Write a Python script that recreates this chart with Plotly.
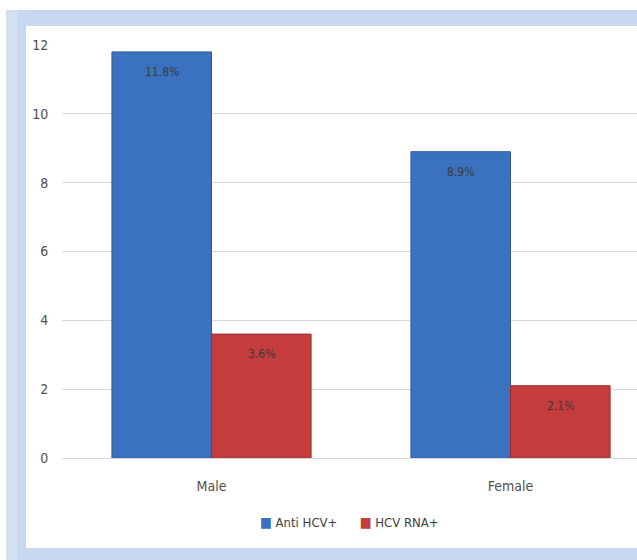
import plotly.graph_objects as go

categories = ["Male", "Female"]
anti_hcv = [11.8, 8.9]
hcv_rna = [3.6, 2.1]
series_names = ["Anti HCV+", "HCV RNA+"]
series_colors = ["#3a72bf", "#c43c3c"]
y_ticks = [0, 2, 4, 6, 8, 10, 12]

FONT = "DejaVu Sans Condensed, Liberation Sans Narrow, Open Sans, sans-serif"
W, H = 637, 560
ML, MT, MB, MR = 62, 45, 102, 0
PW, PH = W - ML - MR, H - MT - MB


def px_x(p):
    return (p - ML) / PW


def px_y(p):
    return (H - MB - p) / PH


fig = go.Figure()
fig.add_trace(go.Bar(
    x=categories, y=anti_hcv, name=series_names[0],
    marker=dict(color=series_colors[0], line=dict(color="#2d5a98", width=1)),
))
fig.add_trace(go.Bar(
    x=categories, y=hcv_rna, name=series_names[1],
    marker=dict(color=series_colors[1], line=dict(color="#9c2e2e", width=1)),
))

annotations = []
for vals, shift in [(anti_hcv, -50), (hcv_rna, 50)]:
    for c, v in zip(categories, vals):
        annotations.append(dict(
            x=c, y=v, xref="x", yref="y", text=f"{v}%", showarrow=False,
            xshift=shift, yshift=-20, font=dict(family=FONT, size=12, color="#3a3a3a"),
        ))

legend_text = "&nbsp;&nbsp;&nbsp;&nbsp;&nbsp;&nbsp;".join(
    f"<span style='color:{col};font-size:14px'>■</span><span style='color:#404040'>&nbsp;{name}</span>"
    for name, col in zip(series_names, series_colors)
)
annotations.append(dict(
    x=0.5, xref="paper", y=px_y(522), yref="paper", yanchor="middle", xanchor="center",
    text=legend_text, showarrow=False, font=dict(family=FONT, size=13, color="#404040"),
))

band = "#c6d9f0"
shapes = [
    dict(type="rect", xref="paper", yref="paper", x0=px_x(6), x1=px_x(17), y0=px_y(560), y1=px_y(10),
         fillcolor="#d5e1f2", line=dict(width=0), layer="below"),
    dict(type="rect", xref="paper", yref="paper", x0=px_x(17), x1=px_x(26), y0=px_y(560), y1=px_y(10),
         fillcolor=band, line=dict(width=0), layer="below"),
    dict(type="rect", xref="paper", yref="paper", x0=px_x(17), x1=px_x(640), y0=px_y(26), y1=px_y(10),
         fillcolor=band, line=dict(width=0), layer="below"),
    dict(type="rect", xref="paper", yref="paper", x0=px_x(17), x1=px_x(640), y0=px_y(560), y1=px_y(548),
         fillcolor=band, line=dict(width=0), layer="below"),
]

fig.update_layout(
    width=W, height=H,
    margin=dict(l=ML, r=MR, t=MT, b=MB, pad=0),
    paper_bgcolor="white", plot_bgcolor="white",
    barmode="group", bargap=0.334, bargroupgap=0,
    font=dict(family=FONT, size=12, color="#505050"),
    xaxis=dict(range=[-0.5, 1.423], showgrid=False, showline=False, zeroline=False,
               ticks="outside", ticklen=15, tickcolor="rgba(0,0,0,0)",
               tickfont=dict(family=FONT, size=14, color="#505050")),
    yaxis=dict(range=[0, 12], tickvals=y_ticks, showgrid=True, gridcolor="#d9d9d9", gridwidth=1,
               zeroline=True, zerolinecolor="#d9d9d9", zerolinewidth=1, showline=False,
               ticks="outside", ticklen=10, tickcolor="rgba(0,0,0,0)",
               tickfont=dict(family=FONT, size=14, color="#505050")),
    showlegend=False,
    shapes=shapes, annotations=annotations,
)

fig.write_html("out.html")
